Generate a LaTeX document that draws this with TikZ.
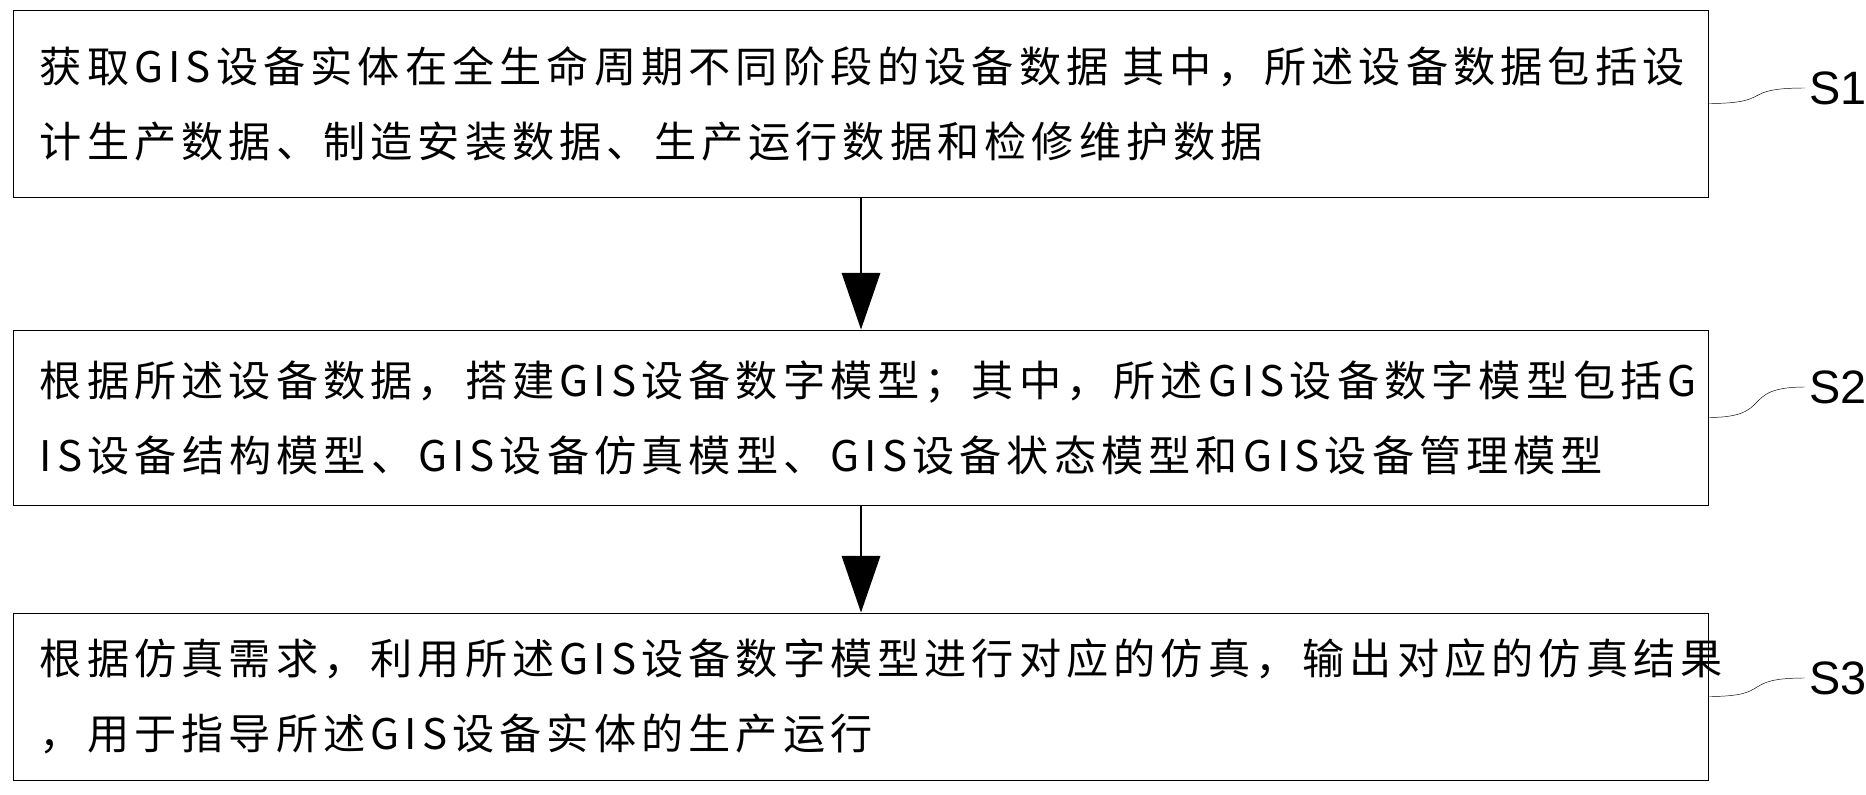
\documentclass[tikz,border=0pt]{standalone}
\usepackage{fontspec}
\setmainfont{Liberation Serif}
\newfontfamily\cjk[LetterSpace=12]{Noto Sans CJK SC}
\newfontfamily\labelfont{Liberation Sans}
\usetikzlibrary{positioning,arrows.meta}

\tikzset{
  stepbox/.style={draw, thick, minimum width=50.82cm, text width=49.26cm,
    inner xsep=0.78cm, align=left, font=\fontsize{36}{64}\selectfont\cjk},
  steplabel/.style={font=\fontsize{40}{48}\selectfont\labelfont, anchor=west},
  flow/.style={line width=2pt, -{Triangle[length=1.7cm, width=1.15cm]}}
}

\begin{document}
\begin{tikzpicture}[x=0.03cm, y=-0.03cm]
  \useasboundingbox (0,0) rectangle (1866,795);

  % steps
  \node[stepbox, minimum height=5.61cm] (s1) at (861,103.5)
    {获取GIS设备实体在全生命周期不同阶段的设备数据 其中，所述设备数据包括设\\计生产数据、制造安装数据、生产运行数据和检修维护数据};
  \node[stepbox, minimum height=5.25cm] (s2) at (861,417.5)
    {根据所述设备数据，搭建GIS设备数字模型；其中，所述GIS设备数字模型包括G\\IS设备结构模型、GIS设备仿真模型、GIS设备状态模型和GIS设备管理模型};
  \node[stepbox, minimum height=5.01cm] (s3) at (861,696.5)
    {根据仿真需求，利用所述GIS设备数字模型进行对应的仿真，输出对应的仿真结果\\，用于指导所述GIS设备实体的生产运行};

  % arrows
  \draw[flow] (s1) -- (s2);
  \draw[flow] (s2) -- (s3);

  % labels
  \node[steplabel] (l1) at (1805,88) {S1};
  \node[steplabel] (l2) at (1805,387) {S2};
  \node[steplabel] (l3) at (1805,678) {S3};
  \foreach \i in {1,2,3}
    \draw (s\i.east) .. controls +(2cm,0) and +(-2cm,0) .. (l\i.west);
\end{tikzpicture}
\end{document}
